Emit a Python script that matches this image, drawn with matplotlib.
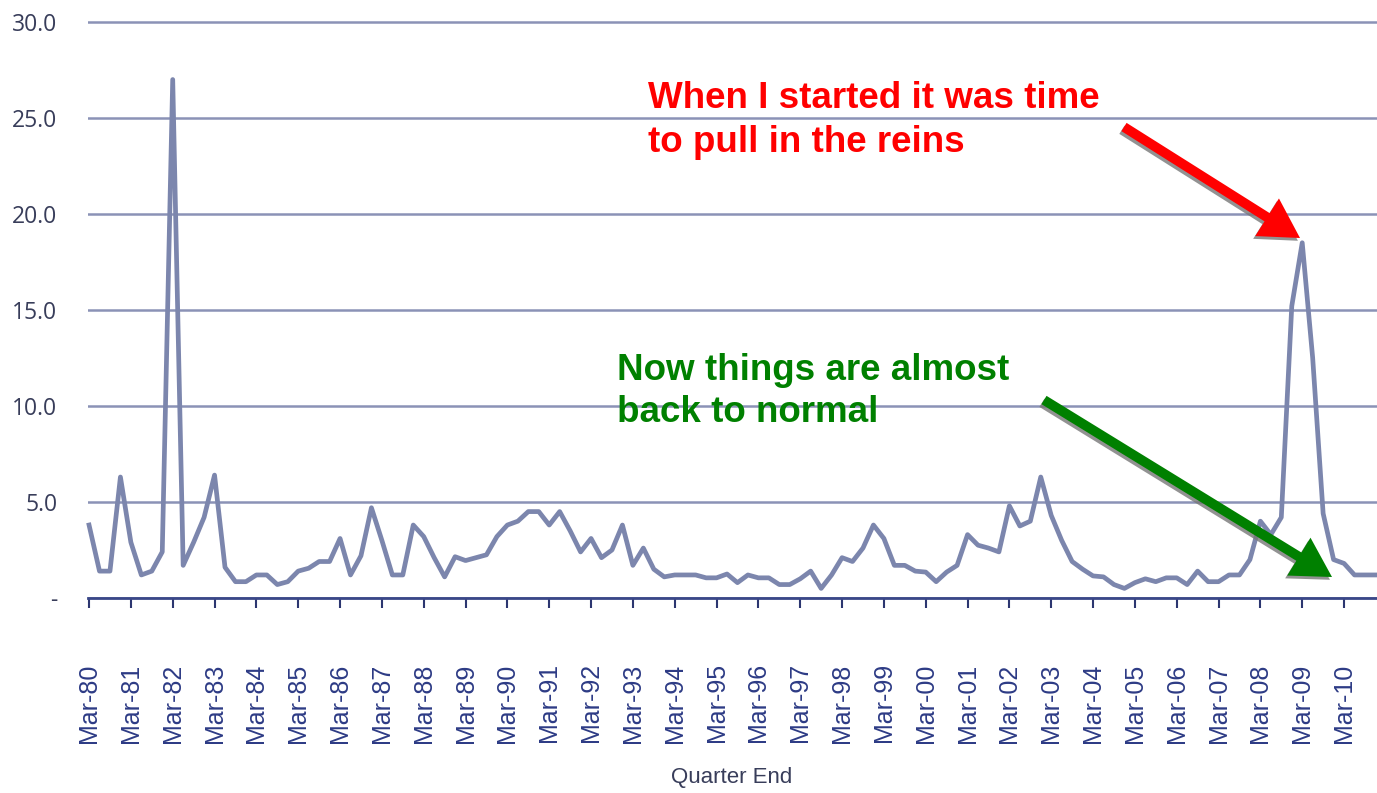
import matplotlib
matplotlib.use("Agg")
import matplotlib.pyplot as plt
import matplotlib.patheffects as pe

# ── Dati: valori trimestrali, Mar-80 .. Dec-10 ─────────────────────
valori = [
    3.8, 1.4, 1.4, 6.3, 2.9, 1.2, 1.4, 2.4,      # 80-81
    27.0, 1.7, 2.9, 4.2, 6.4, 1.6, 0.85, 0.85,   # 82-83
    1.2, 1.2, 0.7, 0.85, 1.4, 1.55, 1.9, 1.9,    # 84-85
    3.1, 1.2, 2.2, 4.7, 3.0, 1.2, 1.2, 3.8,      # 86-87
    3.2, 2.1, 1.1, 2.15, 1.95, 2.1, 2.25, 3.2,   # 88-89
    3.8, 4.0, 4.5, 4.5, 3.8, 4.5, 3.5, 2.4,      # 90-91
    3.1, 2.1, 2.5, 3.8, 1.7, 2.6, 1.5, 1.1,      # 92-93
    1.2, 1.2, 1.2, 1.05, 1.05, 1.25, 0.8, 1.2,   # 94-95
    1.05, 1.05, 0.7, 0.7, 1.0, 1.4, 0.5, 1.2,    # 96-97
    2.1, 1.9, 2.6, 3.8, 3.1, 1.7, 1.7, 1.4,      # 98-99
    1.35, 0.85, 1.35, 1.7, 3.3, 2.75, 2.6, 2.4,  # 00-01
    4.8, 3.75, 4.0, 6.3, 4.3, 3.0, 1.9, 1.5,     # 02-03
    1.15, 1.1, 0.7, 0.5, 0.8, 1.0, 0.85, 1.05,   # 04-05
    1.05, 0.7, 1.4, 0.85, 0.85, 1.2, 1.2, 2.0,   # 06-07
    4.0, 3.3, 4.2, 15.2, 18.5, 12.5, 4.4, 2.0,   # 08-09
    1.8, 1.2, 1.2, 1.2,                          # 10
]

etichette_x = [
    "Mar-80", "Mar-81", "Mar-82", "Mar-83", "Mar-84", "Mar-85", "Mar-86",
    "Mar-87", "Mar-88", "Mar-89", "Mar-90", "Mar-91", "Mar-92", "Mar-93",
    "Mar-94", "Mar-95", "Mar-96", "Mar-97", "Mar-98", "Mar-99", "Mar-00",
    "Mar-01", "Mar-02", "Mar-03", "Mar-04", "Mar-05", "Mar-06", "Mar-07",
    "Mar-08", "Mar-09", "Mar-10",
]
pos_x = list(range(0, 4 * len(etichette_x), 4))

tick_y = [0, 5, 10, 15, 20, 25, 30]
etichette_y = ["-", "5.0", "10.0", "15.0", "20.0", "25.0", "30.0"]

# ── Figura ─────────────────────────────────────────────────────────
W, H = 1377, 793
fig = plt.figure(figsize=(W / 100, H / 100), dpi=100, facecolor='white')
ax = fig.add_axes([88 / W, (H - 598) / H, (W - 88) / W, (598 - 20) / H])

ax.plot(range(len(valori)), valori, color='#7c86ad', lw=3.4,
        solid_joinstyle='round', zorder=3, clip_on=False)

ax.set_xlim(-0.1, 123.15)
ax.set_ylim(0, 30.1)

ax.set_yticks(tick_y, etichette_y)
ax.set_xticks(pos_x, etichette_x)
ax.yaxis.grid(True, color='#8b92b6', lw=1.8)
ax.set_axisbelow(True)

for s in ['top', 'left', 'right']:
    ax.spines[s].set_visible(False)
ax.spines['bottom'].set_color('#3a4788')
ax.spines['bottom'].set_linewidth(2)

ax.tick_params(axis='y', length=0, pad=22, labelsize=16.5, labelcolor='#383d5a')
for t in ax.get_yticklabels():
    t.set_family(['Open Sans', 'DejaVu Sans'])
    t.set_fontweight('medium')
ax.tick_params(axis='x', length=7, width=1.5, color='#2c3670', pad=40,
               labelrotation=90, labelsize=18, labelcolor='#2d3b85')
for t in ax.get_xticklabels():
    t.set_family(['Liberation Sans', 'DejaVu Sans'])
    t.set_verticalalignment('top')

fig.text(732 / W, 1 - 778 / H, "Quarter End", ha='center', va='center',
         fontsize=16, color='#383d5a',
         family=['Liberation Sans Narrow', 'Liberation Sans', 'DejaVu Sans'])

# ── Annotazioni ────────────────────────────────────────────────────
testo_rosso = ["When I started it was time", "to pull in the reins"]
testo_verde = ["Now things are almost", "back to normal"]

for riga, yb in zip(testo_rosso, [108, 152]):
    fig.text(648 / W, 1 - yb / H, riga, ha='left', va='baseline',
             fontsize=26.5, fontweight='bold', color='#ff0000',
             family=['Liberation Sans', 'DejaVu Sans'])
for riga, yb in zip(testo_verde, [380, 422]):
    fig.text(617 / W, 1 - yb / H, riga, ha='left', va='baseline',
             fontsize=26.5, fontweight='bold', color='#008000',
             family=['Liberation Sans', 'DejaVu Sans'])

ombra = [pe.SimplePatchShadow(offset=(-1.5, -2), shadow_rgbFace='#777777', alpha=0.8),
         pe.Normal()]
stile = "simple,head_length=2.8,head_width=3.2,tail_width=0.7"
for coda, punta, col in [((1124, 127), (1300, 238), '#ff0000'),
                         ((1044, 400), (1332, 577), '#008000')]:
    ax.annotate('', xy=(punta[0], H - punta[1]), xycoords='figure pixels',
                xytext=(coda[0], H - coda[1]), textcoords='figure pixels',
                arrowprops=dict(arrowstyle=stile, mutation_scale=10, fc=col,
                                ec='none', shrinkA=0, shrinkB=0,
                                path_effects=ombra),
                annotation_clip=False, zorder=5)

fig.savefig('out.png', dpi=100)
